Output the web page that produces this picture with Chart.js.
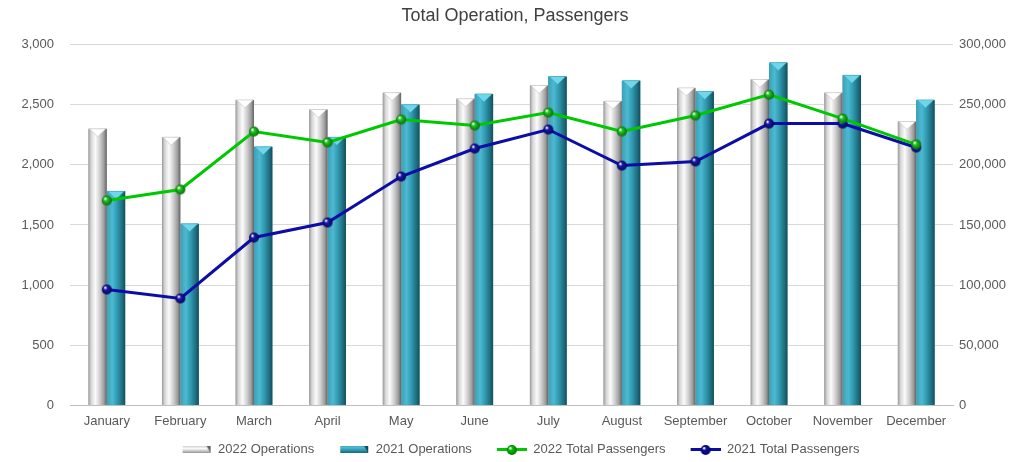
<!DOCTYPE html>
<html>
<head>
<meta charset="utf-8">
<script src="https://cdn.jsdelivr.net/npm/chart.js@4"></script>
<style>
  html, body { margin: 0; padding: 0; background: #fff; }
  #wrap { width: 1030px; height: 462px; }
</style>
</head>
<body>
<div id="wrap"><canvas id="chartOps"></canvas></div>
<script>
// values
var months = ['January', 'February', 'March', 'April', 'May', 'June', 'July',
              'August', 'September', 'October', 'November', 'December'];
var ops2022 = [2300, 2230, 2540, 2460, 2600, 2550, 2660, 2530, 2640, 2710, 2600, 2360];
var ops2021 = [1780, 1510, 2150, 2230, 2500, 2590, 2735, 2700, 2610, 2850, 2745, 2540];
var pax2022 = [170400, 179500, 227700, 218600, 237700, 232700, 243500, 227700, 241000, 258400, 238500, 216900];
var pax2021 = [96400, 88900, 139600, 152100, 190300, 213600, 229400, 199400, 202800, 234300, 234300, 214400];

var FONT = '"Liberation Sans", Arial, sans-serif';
var TEXT = '#595959';
var ICON_GAP = 11; // blank space on the left of each legend icon

var barLooks = {
    silver: { stops: [[0, '#989898'], [0.15, '#d6d6d6'], [0.38, '#fbfbfb'], [0.62, '#cfcfcf'], [0.85, '#9c9c9c'], [1, '#606060']],
              cap: '#ffffff', capEdge: '#bdbdbd' },
    teal:   { stops: [[0, '#3aa0b6'], [0.3, '#4cbad1'], [0.6, '#2d94ab'], [0.88, '#1c6676'], [1, '#124d5a']],
              cap: '#72d6ea', capEdge: '#3aa6bd' }
};

function fillBar(ctx, look, left, top, w, h) {
    var g = ctx.createLinearGradient(left, 0, left + w, 0);
    look.stops.forEach(function (s) { g.addColorStop(s[0], s[1]); });
    ctx.fillStyle = g;
    ctx.fillRect(left, top, w, h);
    var capH = Math.min(8, h);
    ctx.beginPath();
    ctx.moveTo(left + 1, top);
    ctx.lineTo(left + w - 1, top);
    ctx.lineTo(left + w / 2, top + capH);
    ctx.closePath();
    ctx.fillStyle = look.cap;
    ctx.fill();
    ctx.strokeStyle = look.capEdge;
    ctx.lineWidth = 0.6;
    ctx.stroke();
}

function sphere(color, dark, r) {
    var c = document.createElement('canvas');
    c.width = c.height = r * 2 + 2;
    var x = c.getContext('2d');
    var g = x.createRadialGradient(r + 1 - r * 0.35, r + 1 - r * 0.4, 0.5, r + 1, r + 1, r);
    g.addColorStop(0, '#ffffff');
    g.addColorStop(0.3, color);
    g.addColorStop(1, dark);
    x.fillStyle = g;
    x.beginPath();
    x.arc(r + 1, r + 1, r, 0, Math.PI * 2);
    x.fill();
    return c;
}

function legendBar(look) {
    var c = document.createElement('canvas');
    c.width = 30 + ICON_GAP; c.height = 9;
    var x = c.getContext('2d');
    x.translate(ICON_GAP, 0);
    var g = x.createLinearGradient(0, 0, 0, 9);
    look.stops.forEach(function (s) { g.addColorStop(s[0], s[1]); });
    x.fillStyle = g;
    x.fillRect(1, 1, 28, 7);
    x.fillStyle = look.stops[look.stops.length - 1][1];
    x.beginPath(); x.moveTo(25, 1); x.lineTo(29, 1); x.lineTo(29, 8); x.closePath(); x.fill();
    return c;
}

function legendLine(color, dark) {
    var c = document.createElement('canvas');
    c.width = 30 + ICON_GAP; c.height = 11;
    var x = c.getContext('2d');
    x.translate(ICON_GAP, 0);
    x.strokeStyle = color; x.lineWidth = 3;
    x.beginPath(); x.moveTo(0, 5.5); x.lineTo(30, 5.5); x.stroke();
    x.drawImage(sphere(color, dark, 5), 9, 0);
    return c;
}

var greenDot = sphere('#1ec81e', '#0a6a0a', 5);
var blueDot = sphere('#1a1ab0', '#05055a', 5);
var legendIcons = [
    legendBar(barLooks.silver),
    legendBar(barLooks.teal),
    legendLine('#00c800', '#0a6a0a'),
    legendLine('#0c0ca6', '#05055a')
];

var barShade = {
    id: 'barShade',
    afterDatasetDraw: function (chart, args) {
        var meta = args.meta;
        if (meta.type !== 'bar') return;
        var look = meta.index === 0 ? barLooks.silver : barLooks.teal;
        var ctx = chart.ctx;
        ctx.save();
        meta.data.forEach(function (el) {
            var p = el.getProps(['x', 'y', 'base', 'width'], true);
            fillBar(ctx, look, p.x - p.width / 2, p.y, p.width, p.base - p.y);
        });
        ctx.restore();
    }
};

var ctx = document.getElementById('chartOps').getContext('2d');
new Chart(ctx, {
    type: 'bar',
    data: {
        labels: months,
        datasets: [{
            label: '2022 Operations',
            data: ops2022,
            backgroundColor: '#d0d0d0',
            yAxisID: 'y',
            order: 2,
            categoryPercentage: 0.5,
            barPercentage: 1.0
        }, {
            label: '2021 Operations',
            data: ops2021,
            backgroundColor: '#2d94ab',
            yAxisID: 'y',
            order: 2,
            categoryPercentage: 0.5,
            barPercentage: 1.0
        }, {
            type: 'line',
            label: '2022 Total Passengers',
            data: pax2022,
            borderColor: '#00c800',
            backgroundColor: '#00c800',
            borderWidth: 3,
            pointStyle: greenDot,
            pointRadius: 5,
            yAxisID: 'y1',
            order: 0
        }, {
            type: 'line',
            label: '2021 Total Passengers',
            data: pax2021,
            borderColor: '#0c0ca6',
            backgroundColor: '#0c0ca6',
            borderWidth: 3,
            pointStyle: blueDot,
            pointRadius: 5,
            yAxisID: 'y1',
            order: 0
        }]
    },
    options: {
        responsive: true,
        maintainAspectRatio: false,
        animation: false,
        layout: { padding: { left: 0, right: 0, top: 5, bottom: 0 } },
        plugins: {
            title: {
                display: true,
                text: 'Total Operation, Passengers',
                color: '#404040',
                font: { family: FONT, size: 18, weight: 'normal' },
                padding: { top: 0, bottom: 18 }
            },
            legend: {
                position: 'bottom',
                maxHeight: 33,
                labels: {
                    usePointStyle: true,
                    pointStyleWidth: 30 + ICON_GAP,
                    color: TEXT,
                    font: { family: FONT, size: 13 },
                    padding: 14,
                    generateLabels: function (chart) {
                        var items = Chart.defaults.plugins.legend.labels.generateLabels(chart);
                        items.sort(function (a, b) { return a.datasetIndex - b.datasetIndex; });
                        items.forEach(function (it) {
                            it.pointStyle = legendIcons[it.datasetIndex];
                        });
                        return items;
                    }
                }
            },
            tooltip: { enabled: false }
        },
        scales: {
            x: {
                grid: { display: false },
                border: { color: '#bfbfbf' },
                ticks: { color: TEXT, font: { family: FONT, size: 13 }, maxRotation: 0, padding: 0 }
            },
            y: {
                position: 'left',
                min: 0, max: 3000,
                ticks: {
                    stepSize: 500, color: TEXT, padding: 16,
                    font: { family: FONT, size: 13 },
                    callback: function (v) { return v.toLocaleString('en-US'); }
                },
                grid: { color: '#d9d9d9', tickLength: 0 },
                border: { display: false },
                afterFit: function (s) { s.width = 70; }
            },
            y1: {
                position: 'right',
                min: 0, max: 300000,
                ticks: {
                    stepSize: 50000, color: TEXT, padding: 6,
                    font: { family: FONT, size: 13 },
                    callback: function (v) { return v.toLocaleString('en-US'); }
                },
                grid: { display: false, drawTicks: false },
                border: { display: false },
                afterFit: function (s) { s.width = 77; }
            }
        }
    },
    plugins: [barShade]
});
</script>
</body>
</html>
